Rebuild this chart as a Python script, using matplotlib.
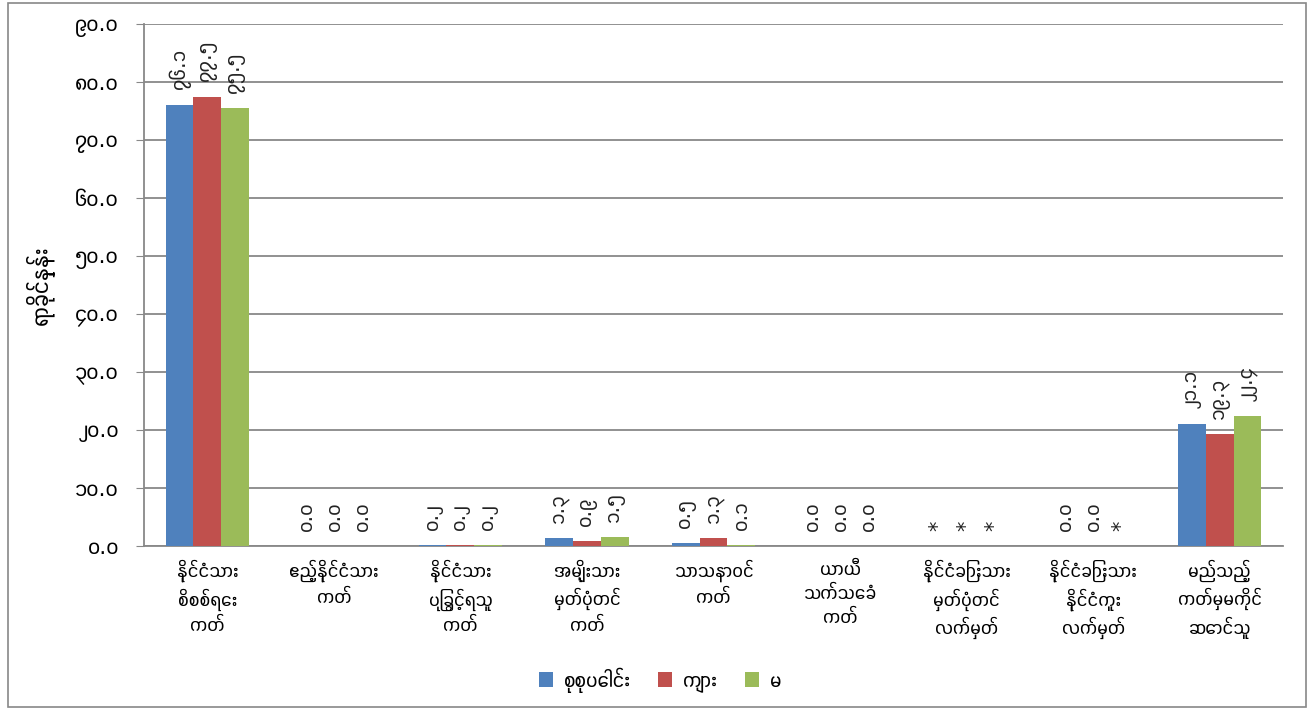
import numpy as np
import matplotlib
matplotlib.use("Agg")
import matplotlib.pyplot as plt
from matplotlib import font_manager
from matplotlib.ft2font import FT2Font
from matplotlib.patches import Rectangle

categories = ["နိုင်ငံသား\nစိစစ်ရေး\nကတ်", "ဧည့်နိုင်ငံသား\nကတ်",
              "နိုင်ငံသား\nပြုခွင့်ရသူ\nကတ်", "အမျိုးသား\nမှတ်ပုံတင်\nကတ်",
              "သာသနာဝင်\nကတ်", "ယာယီ\nသက်သေခံ\nကတ်",
              "နိုင်ငံခြားသား\nမှတ်ပုံတင်\nလက်မှတ်",
              "နိုင်ငံခြားသား\nနိုင်ငံကူး\nလက်မှတ်",
              "မည်သည့်\nကတ်မှမကိုင်\nဆောင်သူ"]
series_names = ["စုစုပေါင်း", "ကျား", "မ"]
# None = not shown in the source ("*")
total = [76.1, 0.0, 0.2, 1.3, 0.5, 0.0, None, 0.0, 21.1]
male = [77.5, 0.0, 0.2, 0.9, 1.3, 0.0, None, 0.0, 19.3]
female = [75.5, 0.0, 0.2, 1.5, 0.1, 0.0, None, None, 22.4]
y_ticks = [0, 10, 20, 30, 40, 50, 60, 70, 80, 90]
y_label = "ရာခိုင်နှုန်း"

colors = ["#4F81BD", "#C0504D", "#9BBB59"]
MY_DIGITS = str.maketrans("0123456789", "၀၁၂၃၄၅၆၇၈၉")


def my_num(v):
    return "{:.1f}".format(v).translate(MY_DIGITS)


def find_myanmar_font():
    # look for any installed font that has Myanmar glyphs
    found = []
    for path in font_manager.findSystemFonts():
        try:
            cmap = FT2Font(path).get_charmap()
        except Exception:
            continue
        if 0x101B in cmap and 0x1000 in cmap:
            found.append(path)
    found.sort(key=lambda p: (0 if ("Myanmar" in p or "Padauk" in p) else 1, p))
    if not found:
        return None
    font_manager.fontManager.addfont(found[0])
    return font_manager.FontProperties(fname=found[0]).get_name()


my_font = find_myanmar_font()
families = ([my_font] if my_font else []) + ["DejaVu Sans"]
plt.rcParams["font.family"] = families

W, H = 1311, 709
fig = plt.figure(figsize=(W / 100, H / 100), dpi=100)
ax = fig.add_axes([144 / W, 1 - 546 / H, (1283 - 144) / W, (546 - 24) / H])

# outer chart frame
fig.patches.append(Rectangle((8 / W, 2 / H), (1306 - 8) / W, (706 - 2) / H,
                             transform=fig.transFigure, fill=False,
                             edgecolor="#888888", lw=1.2))

x = np.arange(len(categories))
bw = 0.22
for i, (vals, name) in enumerate(zip([total, male, female], series_names)):
    pos = x + (i - 1) * bw
    heights = [v if v is not None else 0 for v in vals]
    ax.bar(pos, heights, bw, color=colors[i], label=name, zorder=3)
    for px, v in zip(pos, vals):
        txt = my_num(v) if v is not None else "*"
        ax.annotate(txt, (px, v if v is not None else 0), xytext=(0, 11),
                    textcoords="offset points", rotation=90, ha="center",
                    va="bottom", fontsize=15, color="#222222")

ax.set_xlim(-0.5, len(categories) - 0.5)
ax.set_ylim(0, 90)
ax.set_yticks(y_ticks)
ax.set_yticklabels([my_num(t) for t in y_ticks], fontsize=16)
ax.set_xticks(x)
ax.set_xticklabels(categories, fontsize=14, linespacing=1.35)
ax.tick_params(axis="x", length=0, pad=10)
ax.tick_params(axis="y", length=6, color="#888888", pad=12)
ax.grid(axis="y", color="#888888", lw=1.3, zorder=0)
for s in ["top", "right"]:
    ax.spines[s].set_visible(False)
for s in ["left", "bottom"]:
    ax.spines[s].set_color("#888888")
    ax.spines[s].set_linewidth(1.3)

fig.text(40 / W, 1 - 285 / H, y_label, rotation=90, ha="center", va="center",
         fontsize=17, fontweight="bold")

ax.legend(loc="center", bbox_to_anchor=(660 / W, 1 - 680 / H),
          bbox_transform=fig.transFigure, ncol=3, frameon=False,
          fontsize=15, handlelength=0.7, handleheight=0.7,
          columnspacing=1.3, handletextpad=0.5)

fig.savefig("out.png", dpi=100)
